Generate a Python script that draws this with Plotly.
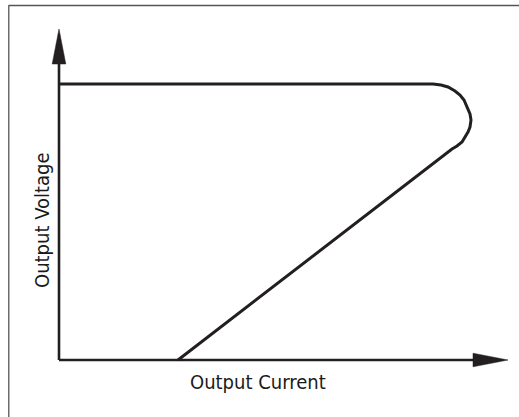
import plotly.graph_objects as go

# Schematic fold-back current limiting characteristic (arbitrary units)
current = [0, 374, 382, 389, 396, 401, 405, 408, 411, 412, 411, 409, 406, 403, 398, 393, 119]
voltage = [276, 276, 275, 273, 269, 265, 260, 253, 246, 240, 233, 228, 223, 218, 214, 211, 0]

x_axis_end = 449   # tip of the current arrow
y_axis_end = 331   # tip of the voltage arrow
arrow_len = 35
arrow_half = 6.8

x_title = "Output Current"
y_title = "Output Voltage"

ink = "#231f20"
font_family = "DejaVu Sans Condensed, Liberation Sans Narrow, DejaVu Sans, sans-serif"

fig = go.Figure()

# axes lines
fig.add_trace(go.Scatter(x=[0, x_axis_end - arrow_len + 2], y=[0, 0], mode="lines",
                         line=dict(color=ink, width=2.6), hoverinfo="skip", showlegend=False))
fig.add_trace(go.Scatter(x=[0, 0], y=[0, y_axis_end - arrow_len + 2], mode="lines",
                         line=dict(color=ink, width=2.6), hoverinfo="skip", showlegend=False))
# arrowheads
fig.add_trace(go.Scatter(x=[x_axis_end - arrow_len, x_axis_end, x_axis_end - arrow_len, x_axis_end - arrow_len],
                         y=[arrow_half, 0, -arrow_half, arrow_half], mode="lines", fill="toself",
                         fillcolor=ink, line=dict(color=ink, width=0.5), hoverinfo="skip", showlegend=False))
fig.add_trace(go.Scatter(x=[-arrow_half, 0, arrow_half, -arrow_half],
                         y=[y_axis_end - arrow_len, y_axis_end, y_axis_end - arrow_len, y_axis_end - arrow_len],
                         mode="lines", fill="toself",
                         fillcolor=ink, line=dict(color=ink, width=0.5), hoverinfo="skip", showlegend=False))

# characteristic curve
fig.add_trace(go.Scatter(x=current, y=voltage, mode="lines",
                         line=dict(color=ink, width=3, shape="linear"),
                         hoverinfo="skip", showlegend=False))

fig.add_annotation(x=199, y=-22, xref="x", yref="y", text=x_title, showarrow=False,
                   font=dict(family=font_family, size=20, color="#1a1a1a"), xanchor="center", yanchor="middle")
fig.add_annotation(x=-17, y=140, xref="x", yref="y", text=y_title, showarrow=False, textangle=-90,
                   font=dict(family=font_family, size=20, color="#1a1a1a"), xanchor="center", yanchor="middle")

# frame lines (top and left)
fig.add_shape(type="line", xref="paper", yref="paper", x0=8.5 / 519, x1=1, y0=1 - 5.5 / 417, y1=1 - 5.5 / 417,
              line=dict(color="#555555", width=1.3))
fig.add_shape(type="line", xref="paper", yref="paper", x0=8.8 / 519, x1=8.8 / 519, y0=0, y1=1 - 5.5 / 417,
              line=dict(color="#555555", width=1.3))

fig.update_layout(
    width=519, height=417,
    margin=dict(l=0, r=0, t=0, b=0),
    paper_bgcolor="white", plot_bgcolor="white",
    xaxis=dict(range=[-59, 460], visible=False, fixedrange=True),
    yaxis=dict(range=[-57, 360], visible=False, fixedrange=True),
)

fig.write_html("out.html", config={"displayModeBar": False},
               post_script="document.body.style.margin='0';document.body.style.overflow='hidden';")
